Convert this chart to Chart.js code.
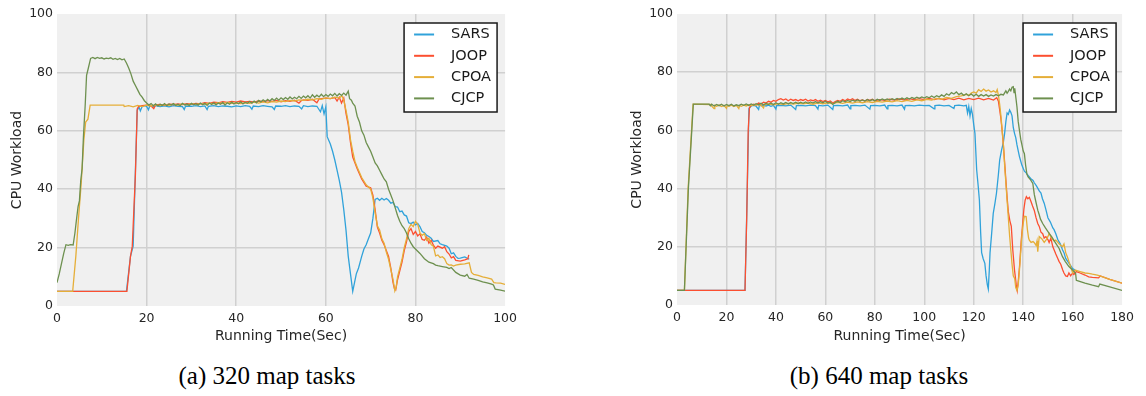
<!DOCTYPE html>
<html>
<head>
<meta charset="utf-8">
<script src="https://cdn.jsdelivr.net/npm/chart.js@4.4.1/dist/chart.umd.min.js"></script>
<style>
  body { margin: 0; background: #fff; width: 1146px; height: 396px; position: relative; overflow: hidden; }
  canvas { position: absolute; top: 0; }
  .cap { position: absolute; top: 361px; width: 260px; text-align: center; font: 25px "Liberation Serif", "Times New Roman", serif; line-height: 30px; color: #000; }
</style>
</head>
<body>
<canvas id="chartA" width="522" height="350" style="left:0px"></canvas>
<canvas id="chartB" width="519" height="350" style="left:620px"></canvas>
<div class="cap" style="left:137px">(a) 320 map tasks</div>
<div class="cap" style="left:749px">(b) 640 map tasks</div>
<script>
var names = ['SARS', 'JOOP', 'CPOA', 'CJCP'];
var colors = ['#30a2da', '#fc4f30', '#e5ae38', '#6d904f'];
var yTicks = [0, 20, 40, 60, 80, 100];
var xTicksA = [0, 20, 40, 60, 80, 100];
var xTicksB = [0, 20, 40, 60, 80, 100, 120, 140, 160, 180];

// (a) 320 map tasks : [time, workload]
var sarsA = [[0,5],[15.5,5],[16.4,17],[17,20.5],[17.9,67],[18.3,68.2],[18.6,66.8],[19,68.3],[19.5,68.6],[20,68.4],[20.4,67.2],[20.7,68.5],[21.5,68.3],[22,68.6],[23,68.3],[24,68.5],[25,68.2],[26,68.6],[27,68.4],[28,68.3],[28.4,67.3],[28.7,68.5],[30,68.4],[31,68.6],[32,68.3],[33,68.5],[33.5,67.3],[33.8,68.4],[35,68.6],[36,68.3],[37,68.5],[38,68.4],[39,68.2],[40,68.5],[41,68.3],[42,68.6],[43,68.4],[43.5,67.4],[43.8,68.5],[45,68.3],[46,68.6],[47,68.4],[48,68.2],[48.5,67.3],[48.8,68.5],[50,68.4],[51,68.6],[52,68.3],[53,68.5],[54,68.4],[54.6,67.5],[55,68.6],[56,68.3],[57,68.5],[58,68.4],[58.8,66.5],[59.2,68.6],[59.6,65.8],[60,68.2],[60.3,58],[61,55.5],[61.5,53],[62,50],[62.5,46.5],[63,43],[63.5,39],[64,33],[64.5,26],[65,17],[65.5,11],[66,5],[66.4,8],[66.8,11],[67.3,13],[68,17],[68.5,19.5],[69,21],[69.5,23],[70,25],[70.5,30],[71,36.5],[71.5,36.9],[72,36.2],[72.5,36.9],[73,36.3],[73.5,36.8],[74,36.2],[74.5,35.2],[75,35.5],[75.5,34],[76,33.9],[76.5,32.3],[77,32.5],[77.5,31.2],[78,30.8],[78.5,28.5],[79,28.2],[79.5,28.7],[80,27.8],[80.5,28.3],[81,27.2],[81.5,25.5],[82,25.1],[82.5,24.2],[83,23.8],[83.5,23.2],[84,22.1],[85,22.4],[85.5,21.3],[86,21],[87,20.5],[87.5,19.8],[88,17.9],[88.5,18.2],[89,17],[89.5,16.3],[90,16.4],[91,16.8],[92,16]];
var joopA = [[0,5],[15.6,5],[16.4,17],[16.8,20.5],[17.5,45],[17.9,67.5],[18.2,68.3],[19,68.6],[20,68.8],[21,68.5],[21.6,67.6],[22,68.9],[23,69],[24,68.8],[25,69.1],[26,69],[27,69.2],[28,69],[29,69.3],[30,69.1],[31,69.4],[32,69.2],[33,69.6],[34,69.4],[35,69.8],[36,69.6],[37,70],[38,69.7],[39,70.1],[40,69.8],[41,70.2],[42,69.9],[43,70.1],[44,69.8],[45,70.2],[46,70],[47,70.3],[48,70.1],[49,70.4],[50,69.9],[51,70.3],[52,70.1],[53,70.5],[54,69.5],[54.5,70.3],[55,70.6],[56,70.4],[57,70.8],[58,69.6],[58.5,70.9],[59,71],[60,71.2],[61,71],[62,71.4],[62.5,70.2],[63,71.5],[63.5,69.5],[64,71.2],[64.5,66],[65,62],[65.5,56],[66,51],[67,47],[68,43.5],[69,41],[70,40.5],[70.5,38],[71,33],[71.5,27],[72,25],[72.5,22.5],[73,21],[74,17],[74.5,13],[75,8],[75.3,6],[75.6,5.5],[76,9],[76.5,12],[77,15],[77.5,19],[78,22],[78.5,25.5],[79,26.5],[79.5,24.5],[80,25.5],[80.5,24],[81,24.7],[81.5,22.8],[82,22.5],[82.5,23.6],[83,21.5],[83.5,22.5],[84,20.8],[84.5,19.8],[85,20.5],[86,19.8],[86.5,20.3],[87,18.6],[87.5,17.8],[88,16.5],[88.5,16.9],[89,15.6],[90,15.4],[91,15.8],[91.7,16.2],[91.9,17.5]];
var cpoaA = [[0,5],[3.5,5],[4.2,17],[4.8,30],[5.4,42],[6,57],[6.4,63],[6.9,64],[7.4,68.8],[10,68.8],[14.9,68.8],[15,68.3],[16,68.6],[17,68.2],[18,68.7],[19,68.3],[20,68.8],[21,68.5],[22,68.9],[23,68.6],[24,69],[25,68.7],[26,69.1],[27,68.8],[28,69.2],[29,68.9],[30,69.3],[31,69],[32,69.4],[33,69.1],[34,69.5],[35,69.2],[36,69.6],[37,69.3],[38,69.7],[39,69.4],[40,69.5],[41,69.3],[42,69.6],[43,69.4],[44,69.8],[45,69.5],[46,69.9],[47,69.6],[48,70],[49,69.8],[50,70.2],[51,70],[52,70.4],[53,70.2],[54,70.6],[55,70.4],[56,70.8],[57,70.6],[58,71],[59,70.8],[60,71.3],[61,71],[62,71.5],[63,71.2],[63.6,72],[64,70.5],[64.5,67],[65,63],[65.5,57],[66,53],[66.5,49.5],[67,47.5],[68,44],[69,41.5],[70,40],[70.5,37],[71,32],[71.5,27.5],[72,26],[72.5,23],[73,21.5],[73.5,18.5],[74,16],[74.5,12.5],[75,9],[75.4,5.2],[75.7,6.5],[76,10],[76.5,13],[77,16],[77.5,20],[78,23],[78.5,26.5],[79,28],[79.5,27.2],[80,29],[80.5,28],[81,25],[81.5,24.2],[82,24.8],[82.5,22.5],[83,23.2],[83.5,21],[84,20.5],[84.5,17.2],[85,17.5],[85.5,16.6],[86,16.9],[86.5,16.2],[87,14.5],[87.5,14],[88,14.1],[88.5,13.7],[89,14],[90,14.3],[91,14.4],[92,14.8],[92.5,11.5],[93,10.8],[94,10.5],[95,10],[96,9.6],[97,9.2],[97.5,8],[98,7.9],[99,7.8],[100,7.4]];
var cjcpA = [[0,8],[0.5,11],[1,14.5],[1.5,18],[2,21],[2.5,20.8],[3,21],[3.6,20.9],[4,25],[4.3,29],[4.7,34],[5,36],[5.3,43],[5.6,47],[5.9,58],[6.3,69],[6.6,79],[7,81.5],[7.5,84.8],[8,85.1],[8.5,84.7],[9,85.1],[9.5,84.8],[10,85],[10.5,84.6],[11,84.9],[11.5,84.7],[12,85],[12.5,84.5],[13,84.8],[13.5,84.4],[14,84.8],[14.5,84.3],[15,84.6],[15.5,83.2],[16,81.5],[16.5,79.5],[17,77],[17.5,75.5],[18,74],[18.5,72.5],[19,71.5],[19.5,70.3],[20,69.5],[20.5,68.8],[21,69.3],[21.5,68.6],[22,69.2],[22.5,68.5],[23,69.1],[23.5,68.7],[24,69.3],[24.5,68.6],[25,69.2],[25.5,68.8],[26,69.3],[26.5,68.7],[27,69.1],[27.5,68.6],[28,69.4],[28.5,68.8],[29,69.2],[29.5,68.7],[30,69.4],[30.5,68.9],[31,69.3],[31.5,68.8],[32,69.5],[32.5,68.9],[33,69.4],[33.5,68.7],[34,69.5],[34.5,69],[35,69.6],[35.5,68.9],[36,69.5],[36.5,69.1],[37,69.7],[37.5,68.8],[38,69.6],[38.5,69.1],[39,69.8],[39.5,69.2],[40,69.7],[40.5,69.3],[41,69.9],[41.5,69.2],[42,69.8],[42.5,69.4],[43,70],[43.5,69.5],[44,70.2],[44.5,69.6],[45,70.4],[45.5,69.9],[46,70.6],[46.5,70],[47,70.8],[47.5,70.2],[48,71],[48.5,70.4],[49,71.2],[49.5,70.5],[50,71.3],[50.5,70.7],[51,71.4],[51.5,70.8],[52,71.6],[52.5,70.9],[53,71.5],[53.5,71],[54,71.8],[54.5,71.1],[55,71.9],[55.5,71.3],[56,72],[56.5,71.2],[57,72.3],[57.5,71.5],[58,72.2],[58.5,71.6],[59,72.5],[59.5,71.7],[60,72.4],[60.5,71.8],[61,72.6],[61.5,72],[62,72.8],[62.5,71.9],[63,72.7],[63.5,72.1],[64,72.9],[64.5,72.2],[65,73.6],[65.3,71],[65.7,70.5],[66,69.5],[66.5,68.5],[67,65],[67.5,63],[68,60],[68.5,58.5],[69,56],[69.5,54.5],[70,53],[70.5,51],[71,49],[71.5,48],[72,46.5],[72.5,45],[73,43.5],[73.5,42.5],[74,40],[74.5,38],[75,36],[75.5,33.5],[76,31],[76.5,29],[77,27.5],[77.5,26.5],[78,25],[78.5,23],[79,21.5],[79.5,20.3],[80,19.5],[81,18],[82,16.2],[82.5,15.6],[83,15],[84,14.5],[84.5,14],[85,13.8],[86,13.5],[87,13.2],[87.5,12.8],[88,13.2],[89,11.5],[90,10.6],[91,10.2],[91.5,10.8],[92,9.5],[93,9.2],[94,8.8],[95,8.3],[96,7.9],[97,7.5],[97.4,7.2],[97.8,5.8],[99,5.4],[100,5.1]];

// (b) 640 map tasks : [time, workload]
var sarsB = [[0,5],[27.5,5],[28.3,35],[29.1,67.5],[30,68.4],[31,68.6],[32,68.3],[33,67.2],[33.3,68.5],[35,68.6],[36,68.4],[37,68.7],[38,68.3],[39,68.6],[40,67.3],[40.3,68.5],[42,68.6],[44,68.4],[46,68.7],[48,67.2],[48.3,68.5],[50,68.6],[52,68.4],[54,68.7],[56,68.5],[57,67.3],[57.3,68.6],[59,68.4],[61,68.7],[63,67.2],[63.3,68.5],[65,68.6],[67,68.4],[69,68.7],[70,67.4],[70.3,68.5],[72,68.6],[74,68.4],[76,68.7],[78,67.3],[78.3,68.5],[80,68.6],[82,68.4],[84,68.7],[85,67.4],[85.3,68.5],[87,68.6],[89,68.4],[91,68.7],[92,67.3],[92.3,68.5],[94,68.6],[96,68.4],[98,68.7],[100,68.5],[102,68.6],[104,67.4],[104.3,68.5],[106,68.7],[108,68.4],[110,68.6],[112,67.5],[112.3,68.5],[114,68.7],[116,68.4],[117,68.6],[117.5,66],[118,68.2],[118.5,65],[119,67.5],[119.5,65.5],[120,62],[120.5,59],[121.2,46.4],[121.8,41],[122.3,36],[122.8,25],[123.2,18],[123.8,16],[124.5,14.3],[125,10],[125.5,7],[125.9,5.5],[126.3,12],[126.6,18],[127.2,24],[127.9,31.5],[128.6,35],[129.2,38.4],[130,45],[130.5,49.8],[131.2,53],[132,56],[132.5,59],[133,63],[133.5,66],[134,65.5],[134.5,67],[135,66.2],[135.5,65],[136,61],[136.5,59],[137,57.5],[137.5,55],[138,53],[138.5,51],[139,49.5],[139.5,48],[140,47],[140.5,46],[141.2,45.4],[142,44.5],[143,43.5],[144,42.8],[144.5,42],[145.3,41],[146,40],[146.5,39.2],[147.2,38.5],[147.8,36.5],[148.5,35],[149.2,32.8],[150,30],[151,28.5],[152,26.5],[152.5,25.9],[153.2,24.5],[154,22.5],[155,21],[155.9,19],[156.5,18],[157.2,16],[158,15],[158.5,14.4],[159.2,13.5],[160,12.5],[161,12]];
var joopB = [[0,5],[27.5,5],[28.2,30],[28.8,60],[29.3,67.8],[30,68.6],[31,69],[32,68.7],[33,69.4],[34,69.1],[35,69.7],[36,69.4],[37,70],[38,69.7],[39,70.3],[40,70],[41,70.6],[42,70.9],[43,70.4],[44,70.8],[45,70.2],[46,70.7],[47,70.3],[48,70.6],[49,70.2],[50,70.6],[51,70.3],[52,70.7],[53,70.1],[54,70.5],[55,70.2],[56,70.6],[57,70],[58,70.4],[59,69.9],[60,70.3],[61,69.8],[62,70.1],[63,69.4],[64,69.9],[65,70.3],[66,70],[67,70.6],[68,70.2],[69,70.8],[70,70.4],[71,70.9],[72,70.3],[73,70.7],[74,70.2],[75,70.5],[76,70.1],[77,70.6],[78,70.3],[79,70.7],[80,70.2],[82,70.6],[84,70.3],[86,70.7],[88,70.4],[90,70.8],[92,70.4],[94,70.9],[96,70.5],[98,70.9],[100,70.6],[102,71],[104,70.6],[106,71],[108,70.5],[110,71],[112,70.6],[114,71.1],[116,70.5],[118,71],[120,70.6],[122,71.1],[124,70.5],[126,71],[128,70.4],[129.3,71.2],[130,70],[130.5,67],[131,64],[131.5,60],[132,55],[132.5,49],[133,43],[133.5,37],[134,32],[134.6,29],[135.2,27],[135.8,19],[136.5,12],[137.2,7],[137.6,5],[138,8],[138.6,14],[139.2,22],[139.8,28],[140.3,33],[140.8,36],[141.3,37.2],[141.9,36.5],[142.5,37],[143.2,35.5],[143.8,34],[144.5,32.5],[145.2,30],[145.9,28],[146.5,27],[147.2,25],[147.9,24.5],[148.5,23],[149.2,23.5],[150,22.5],[150.5,21.5],[151.2,23],[152,20],[152.5,19],[153.2,17.5],[154,16],[154.5,15],[155.2,14],[156,12],[156.5,11],[157.2,10],[157.9,9.8],[158.5,11],[159.2,10],[160,11],[160.5,10.5],[161.5,11.5],[163,11],[165,10.3],[166.5,9.7],[168,9.5],[170.5,9.3],[171.2,10],[175,8.8],[180,7.5]];
var cpoaB = [[0,5],[3,5],[4.5,40],[6.5,69],[13.5,68.9],[14,68.4],[15,67.5],[15.3,68.6],[16,68.3],[17,68.7],[18,68.2],[19,68.6],[20,67.6],[20.3,68.5],[21,68.3],[22,68.7],[23,68.2],[24,68.6],[25,67.5],[25.3,68.5],[26,68.3],[27,68.7],[28,68.4],[29,68.8],[30,68.5],[32,68.9],[34,68.6],[35,67.7],[35.3,68.8],[37,69.1],[39,68.8],[41,69.2],[43,68.9],[45,69.3],[47,69],[49,69.4],[51,69.1],[53,69.4],[55,69],[57,69.5],[59,69.1],[61,69.5],[63,69.2],[65,69.6],[67,69.3],[69,69.7],[71,69.4],[73,69.8],[75,69.5],[77,69.9],[79,69.6],[81,70],[83,69.7],[85,70.1],[87,69.8],[89,70.2],[91,69.9],[93,70.3],[95,70],[97,70.5],[99,70.2],[101,70.7],[103,70.4],[105,71],[107,70.7],[109,71.3],[111,71],[113,71.6],[115,71.9],[117,72.4],[118,72],[119,72.8],[120,73.2],[121,72.8],[122,74],[123,73.4],[124,74.2],[125,73.5],[126,73.9],[127,73.2],[128,73.6],[129,73],[129.5,74],[130,72],[130.5,69],[131,65],[131.5,60],[132,55],[132.5,48],[133,42],[133.5,36],[134,30],[134.5,24],[135,19],[135.5,14],[136,10],[136.6,9],[137,6],[137.5,5],[138,7],[138.5,12],[139,18],[139.5,24],[140,28],[140.5,30.5],[141.2,30.4],[141.7,26],[142.2,23],[142.5,22.3],[143.2,21.5],[144,21.8],[144.5,21.4],[145.2,20.5],[145.6,22],[145.9,18.3],[146.5,23.5],[147.5,22.8],[148.5,21.5],[149.2,22.3],[150,23.5],[150.5,24.6],[151.5,23],[152.5,22],[153.2,22.3],[154.5,21],[155.9,20],[156.5,21],[157.2,18],[157.9,16.5],[158.5,15],[159.2,13.2],[160,11],[161,12],[163,11.5],[165,11],[166.5,10.9],[168,10.6],[170,10.3],[171,10],[175,8.8],[180,7.5]];
var cjcpB = [[0,5],[3,5],[4.6,40],[6.6,69],[13,69],[13.5,68.5],[14,69],[15,68.4],[16,68.9],[17,68.5],[18,69],[19,68.4],[20,68.9],[21,68.5],[22,69],[23,68.4],[24,68.8],[25,68.5],[26,69],[27,68.6],[28,69.1],[29,68.6],[30,69.1],[31,68.7],[32,69.2],[33,68.8],[34,69.3],[35,68.8],[36,69.3],[37,68.9],[38,69.4],[39,68.9],[40,69.5],[41,69],[42,69.5],[43,69.1],[44,69.6],[45,69.1],[46,69.6],[47,69.2],[48,69.7],[49,69.2],[50,69.7],[51,69.3],[52,69.8],[53,69.3],[54,69.8],[55,69.4],[56,69.9],[57,69.4],[58,69.9],[59,69.5],[60,70],[61,69.4],[62,69.7],[63,68.9],[64,69.6],[65,70],[66,69.6],[67,70.2],[68,69.8],[69,70.3],[70,69.9],[71,70.4],[72,70],[73,70.5],[74,70.1],[75,70.5],[76,70.1],[77,70.6],[78,70.2],[79,70.6],[80,70.2],[81,70.7],[82,70.3],[83,70.8],[84,70.4],[85,70.8],[86,70.4],[87,70.9],[88,70.5],[89,71],[90,70.6],[91,71.1],[92,70.7],[93,71.2],[94,70.8],[95,71.3],[96,70.9],[97,71.4],[98,71],[99,71.5],[100,71.1],[101,71.6],[102,71.2],[103,71.8],[104,71.3],[105,71.9],[106,71.5],[107,72.2],[108,71.7],[109,72.6],[110,72.1],[111,73],[112,72.5],[113,73.2],[114,72.3],[115,72.8],[116,72],[117,72.6],[118,71.9],[119,72.5],[120,71.8],[121,72.4],[122,71.7],[123,72.3],[124,71.8],[125,72.3],[126,71.7],[127,72.2],[128,71.8],[129,72.3],[130,71.9],[131,72.4],[132,72.2],[132.5,72.9],[133,73.6],[133.5,72.8],[134,73.4],[134.5,74.2],[135,73.6],[135.5,74.8],[136,75],[136.3,73],[136.6,74.5],[137,71.6],[137.5,68],[138,63],[138.5,60],[139,57],[139.5,55],[140,53],[140.5,52],[141,48],[141.5,45],[142,44],[143,43],[143.9,41.8],[144.5,38],[145,36],[145.9,32.6],[146.5,31],[147,29.5],[147.9,28],[149,26.5],[150.5,24.6],[151.5,23.5],[153.2,21.2],[154.5,19.5],[155.9,16.6],[157,15],[158.5,13.2],[160,12],[161.2,10.9],[161.5,8.5],[162.5,8.2],[165,7.5],[168,6.8],[170.5,6.3],[171,7.2],[175,6.2],[180,5]];

var plotBg = {
    id: 'plotBg',
    beforeDraw: function(chart) {
        var a = chart.chartArea, ctx = chart.ctx;
        ctx.save();
        ctx.fillStyle = '#f0f0f0';
        ctx.fillRect(a.left, a.top, a.right - a.left, a.bottom - a.top);
        ctx.restore();
    }
};

var legendBox = {
    id: 'legendBox',
    afterDraw: function(chart) {
        var ctx = chart.ctx, a = chart.chartArea;
        var w = 93, h = 89;
        var x = a.right - chart.options.plugins.legendBox.gap - w, y = a.top + 9;
        ctx.save();
        ctx.fillStyle = '#ffffff';
        ctx.fillRect(x, y, w, h);
        ctx.strokeStyle = '#1a1a1a';
        ctx.lineWidth = 1.5;
        ctx.strokeRect(x, y, w, h);
        ctx.font = '14.5px "DejaVu Sans"';
        ctx.textBaseline = 'middle';
        chart.data.datasets.forEach(function(ds, i) {
            var ly = y + 11.5 + i * 21.3;
            ctx.strokeStyle = ds.borderColor;
            ctx.lineWidth = 2;
            ctx.beginPath();
            ctx.moveTo(x + 10, ly);
            ctx.lineTo(x + 30, ly);
            ctx.stroke();
            ctx.fillStyle = '#1a1a1a';
            ctx.fillText(ds.label, x + 47, ly);
        });
        ctx.restore();
    }
};

var toPoint = function(p) { return {x: p[0], y: p[1]}; };

var makeChart = function(id, series, xTicks, axisH, gap) {
    var xMax = xTicks[xTicks.length - 1];
    var ctx = document.getElementById(id).getContext('2d');
    var edgeless = function(max) {
        return function(c) {
            if (c.tick && (c.tick.value === 0 || c.tick.value === max)) return 'rgba(0,0,0,0)';
            return '#d0d0d0';
        };
    };
    return new Chart(ctx, {
        type: 'line',
        data: {
            datasets: series.map(function(s, i) {
                return {
                    label: names[i],
                    data: s.map(toPoint),
                    borderColor: colors[i],
                    backgroundColor: colors[i],
                    borderWidth: 1.3,
                    pointRadius: 0,
                    tension: 0,
                    fill: false,
                    order: series.length - 1 - i
                };
            })
        },
        options: {
            responsive: false,
            animation: false,
            layout: { padding: { top: 14, right: 12, left: 0, bottom: 0 } },
            plugins: {
                legend: { display: false },
                tooltip: { enabled: false },
                legendBox: { gap: gap }
            },
            scales: {
                x: {
                    type: 'linear',
                    min: 0,
                    max: xMax,
                    afterFit: function(scale) { scale.height = axisH; },
                    afterBuildTicks: function(scale) { scale.ticks = xTicks.map(function(v) { return {value: v}; }); },
                    border: { display: false },
                    grid: { color: edgeless(xMax), lineWidth: 1.5, drawTicks: false },
                    ticks: { padding: 5, color: '#262626', font: { family: 'DejaVu Sans', size: 12.5 } },
                    title: { display: true, text: 'Running Time(Sec)', color: '#262626', padding: { top: 0, bottom: 5.6 }, font: { family: 'DejaVu Sans', size: 14 } }
                },
                y: {
                    min: 0,
                    max: 100,
                    afterFit: function(scale) { scale.width = 57; },
                    afterBuildTicks: function(scale) { scale.ticks = yTicks.map(function(v) { return {value: v}; }); },
                    border: { display: false },
                    grid: { color: edgeless(100), lineWidth: 1.5, drawTicks: false },
                    ticks: { padding: 4, color: '#262626', font: { family: 'DejaVu Sans', size: 12.5 } },
                    title: { display: true, text: 'CPU Workload', color: '#262626', padding: { top: 8.6, bottom: 0 }, font: { family: 'DejaVu Sans', size: 14 } }
                }
            }
        },
        plugins: [plotBg, legendBox]
    });
};

makeChart('chartA', [sarsA, joopA, cpoaA, cjcpA], xTicksA, 44, 8);
makeChart('chartB', [sarsB, joopB, cpoaB, cjcpB], xTicksB, 45, 6);
</script>
</body>
</html>
